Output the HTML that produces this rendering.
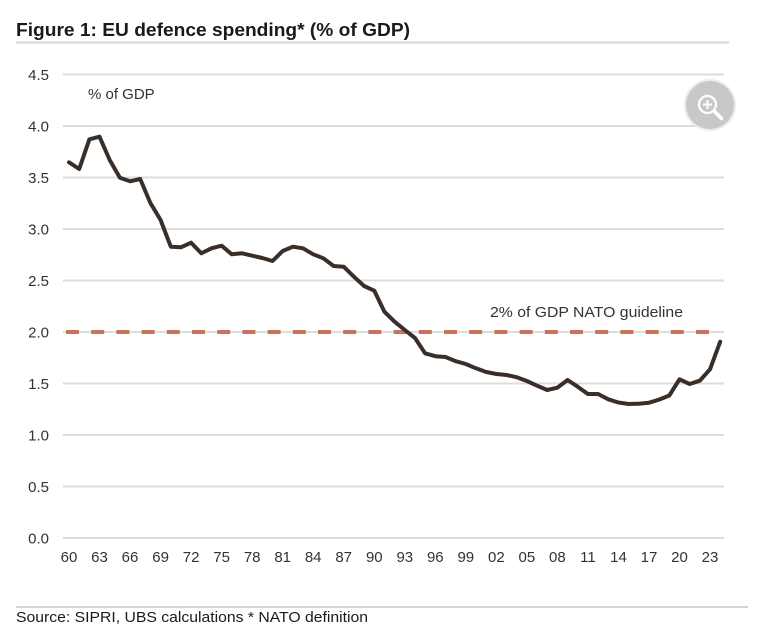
<!DOCTYPE html>
<html><head><meta charset="utf-8"><style>
html,body{margin:0;padding:0;background:#fff;}
svg{display:block;}
text{font-family:"Liberation Sans",sans-serif;}
</style></head><body>
<svg width="762" height="633" viewBox="0 0 762 633" xmlns="http://www.w3.org/2000/svg">
<rect width="762" height="633" fill="#fff"/>
<text x="16" y="36" font-size="18" font-weight="bold" fill="#1a1a1a" textLength="394" lengthAdjust="spacingAndGlyphs">Figure 1: EU defence spending* (% of GDP)</text>
<line x1="16" y1="42.5" x2="729" y2="42.5" stroke="#d4d4d4" stroke-width="2"/>
<g stroke="#dcdcdc" stroke-width="2">
<line x1="63" y1="74.5" x2="724" y2="74.5"/>
<line x1="63" y1="126" x2="724" y2="126"/>
<line x1="63" y1="177.5" x2="724" y2="177.5"/>
<line x1="63" y1="229" x2="724" y2="229"/>
<line x1="63" y1="280.5" x2="724" y2="280.5"/>
<line x1="63" y1="332" x2="724" y2="332"/>
<line x1="63" y1="383.5" x2="724" y2="383.5"/>
<line x1="63" y1="435" x2="724" y2="435"/>
<line x1="63" y1="486.5" x2="724" y2="486.5"/>
<line x1="63" y1="538" x2="724" y2="538"/>
</g>
<g font-size="15" fill="#333" text-anchor="end">
<text x="49" y="80">4.5</text>
<text x="49" y="131.5">4.0</text>
<text x="49" y="183">3.5</text>
<text x="49" y="234.5">3.0</text>
<text x="49" y="286">2.5</text>
<text x="49" y="337.5">2.0</text>
<text x="49" y="389">1.5</text>
<text x="49" y="440.5">1.0</text>
<text x="49" y="492">0.5</text>
<text x="49" y="543.5">0.0</text>
</g>
<g font-size="15" fill="#333" text-anchor="middle">
<text x="69" y="562">60</text>
<text x="99.5" y="562">63</text>
<text x="130" y="562">66</text>
<text x="160.6" y="562">69</text>
<text x="191.1" y="562">72</text>
<text x="221.6" y="562">75</text>
<text x="252.2" y="562">78</text>
<text x="282.7" y="562">81</text>
<text x="313.2" y="562">84</text>
<text x="343.7" y="562">87</text>
<text x="374.3" y="562">90</text>
<text x="404.8" y="562">93</text>
<text x="435.3" y="562">96</text>
<text x="465.8" y="562">99</text>
<text x="496.4" y="562">02</text>
<text x="526.9" y="562">05</text>
<text x="557.4" y="562">08</text>
<text x="587.9" y="562">11</text>
<text x="618.5" y="562">14</text>
<text x="649" y="562">17</text>
<text x="679.5" y="562">20</text>
<text x="710" y="562">23</text>
</g>
<text x="88" y="99" font-size="15" fill="#333">% of GDP</text>
<text x="490" y="317" font-size="15" fill="#333" textLength="193" lengthAdjust="spacingAndGlyphs">2% of GDP NATO guideline</text>
<line x1="66" y1="332" x2="712" y2="332" stroke="#c9745a" stroke-width="4" stroke-dasharray="13,12.2"/>
<polyline fill="none" stroke="#3a2e28" stroke-width="4" stroke-linejoin="round" stroke-linecap="round" points="
69,162.3 79.2,169 89.4,139.3 99.5,136.7 109.7,160 119.9,177.7 130.1,181.3 140.2,179 150.4,203 160.6,220 170.8,246.7 180.9,247.3 191.1,242.7 201.3,253.3 211.5,248.3 221.6,245.7 231.8,254.3 242,253.3 252.2,255.7 262.3,258 272.5,261 282.7,251 292.9,246.7 303,248.3 313.2,254.3 323.4,258.3 333.6,266 343.7,266.7 353.9,276.7 364.1,286 374.3,290.7 384.4,311.7 394.6,321.7 404.8,330 415,338 425.1,353.3 435.3,356.2 445.5,357 455.7,361.2 465.8,364 476,368.3 486.2,372 496.4,374 506.5,375 516.7,377.2 526.9,381 537,385.7 547.2,390 557.4,387.7 567.6,380 577.7,386.7 587.9,394 598.1,394 608.3,399.3 618.4,402.5 628.6,404 638.8,403.7 649,402.7 659.1,399.6 669.3,395.5 679.5,379.3 689.7,384 699.8,380.7 710,369.3 720.2,341.7"/>
<circle cx="710" cy="105" r="26" fill="#ececec"/>
<circle cx="710" cy="105" r="24" fill="#c8c8c8"/>
<circle cx="707.5" cy="104.5" r="8.5" fill="none" stroke="#fff" stroke-width="2.2"/>
<line x1="703" y1="104.5" x2="712" y2="104.5" stroke="#fff" stroke-width="2"/>
<line x1="707.5" y1="100" x2="707.5" y2="109" stroke="#fff" stroke-width="2"/>
<line x1="714" y1="111" x2="721.5" y2="118.5" stroke="#fff" stroke-width="3.5" stroke-linecap="round"/>
<line x1="16" y1="607" x2="748" y2="607" stroke="#d4d4d4" stroke-width="2"/>
<text x="16" y="622" font-size="15" fill="#1a1a1a" textLength="352" lengthAdjust="spacingAndGlyphs">Source: SIPRI, UBS calculations * NATO definition</text>
</svg>
</body></html>
